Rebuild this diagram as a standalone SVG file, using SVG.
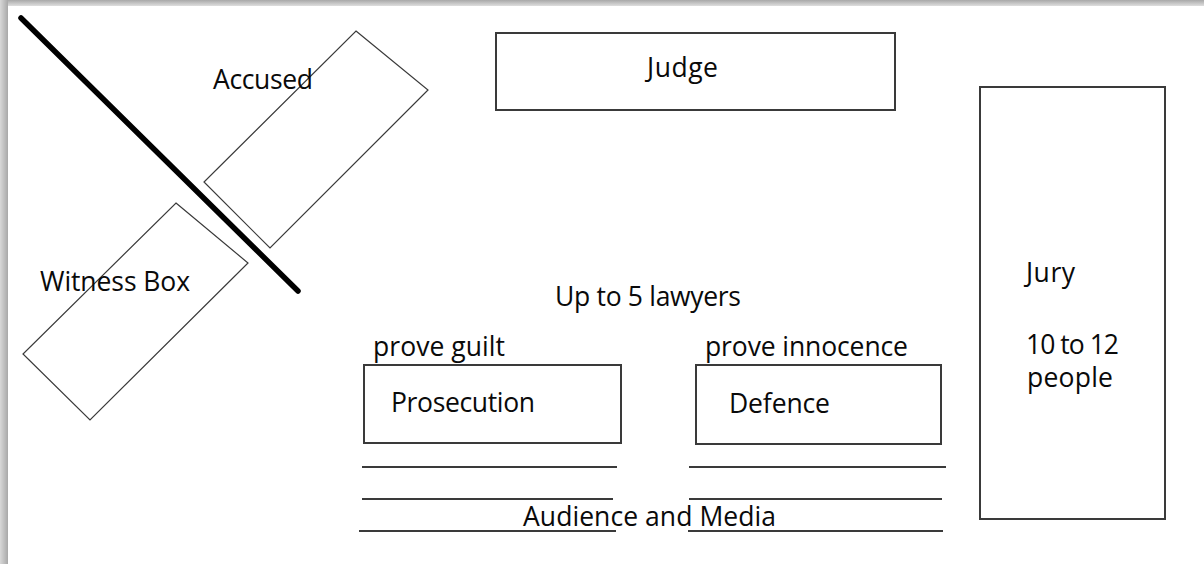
<svg xmlns="http://www.w3.org/2000/svg" width="1204" height="564" viewBox="0 0 1204 564">
  <defs>
    <linearGradient id="shTop" x1="0" y1="0" x2="0" y2="1">
      <stop offset="0" stop-color="#a8a8a8"/>
      <stop offset="1" stop-color="#dedede"/>
    </linearGradient>
    <linearGradient id="shLeft" x1="0" y1="0" x2="1" y2="0">
      <stop offset="0" stop-color="#d8d8d8"/>
      <stop offset="1" stop-color="#a8a8a8"/>
    </linearGradient>
  </defs>
  <style>
    text { font-family: "Open Sans", "Liberation Sans", sans-serif; font-size: 26.5px; fill: #0a0a0a; }
    .box { fill: #fff; stroke: #3a3a3a; stroke-width: 2; }
    .rot { fill: #fff; stroke: #3a3a3a; stroke-width: 1.2; }
    .bench { stroke: #3a3a3a; stroke-width: 2; fill: none; }
  </style>
  <rect x="0" y="0" width="1204" height="564" fill="#fff"/>
  <rect x="0" y="0" width="1204" height="6" fill="url(#shTop)"/>
  <rect x="0" y="0" width="8" height="564" fill="url(#shLeft)"/>

  <g id="accused">
    <polygon class="rot" points="356,31 428,90 270,248 204,182"/>
    <text x="213" y="89" textLength="100">Accused</text>
  </g>
  <g id="witness-box">
    <polygon class="rot" points="176,203 248,263 90,420 23,354"/>
    <text x="40" y="291" textLength="150">Witness Box</text>
  </g>
  <g id="barrier">
    <line x1="21" y1="18" x2="298" y2="291" stroke="#000" stroke-width="5.5" stroke-linecap="round"/>
  </g>
  <g id="judge">
    <rect class="box" x="496" y="33" width="399" height="77"/>
    <text x="647" y="77" textLength="71">Judge</text>
  </g>
  <g id="jury">
    <rect class="box" x="980" y="87" width="185" height="432"/>
    <text x="1026" y="282" textLength="49">Jury</text>
    <text x="1026" y="354" textLength="93">10 to 12</text>
    <text x="1027" y="387" textLength="86">people</text>
  </g>
  <g id="lawyers">
    <text x="555" y="306" textLength="186">Up to 5 lawyers</text>
  </g>
  <g id="prosecution">
    <text x="373" y="356" textLength="132">prove guilt</text>
    <rect class="box" x="364" y="365" width="257" height="78"/>
    <text x="391" y="412" textLength="144">Prosecution</text>
  </g>
  <g id="defence">
    <text x="705" y="356" textLength="203">prove innocence</text>
    <rect class="box" x="696" y="365" width="245" height="79"/>
    <text x="729" y="413" textLength="101">Defence</text>
  </g>
  <g id="audience">
    <line class="bench" x1="362" y1="467" x2="617" y2="467"/>
    <line class="bench" x1="362" y1="499" x2="613" y2="499"/>
    <line class="bench" x1="359" y1="531" x2="616" y2="531"/>
    <line class="bench" x1="689" y1="467" x2="946" y2="467"/>
    <line class="bench" x1="689" y1="499" x2="942" y2="499"/>
    <line class="bench" x1="688" y1="531" x2="943" y2="531"/>
    <text x="523" y="526" textLength="253">Audience and Media</text>
  </g>
</svg>
